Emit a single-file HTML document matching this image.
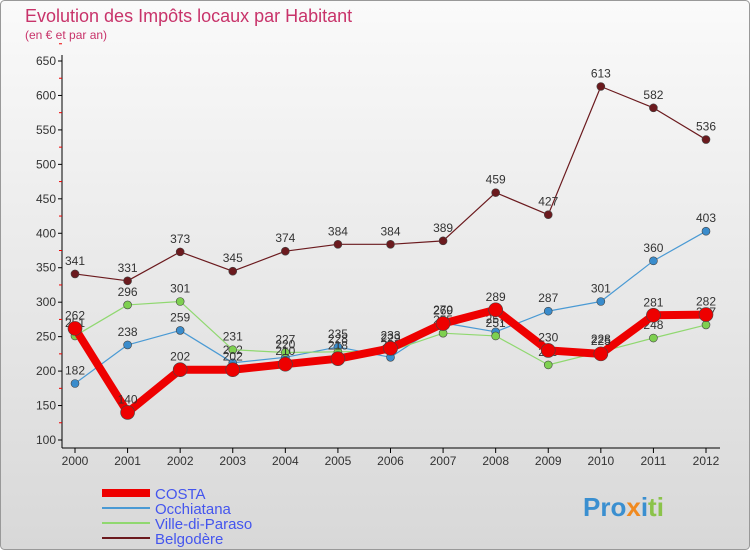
<!DOCTYPE html>
<html><head><meta charset="utf-8"><style>
body{margin:0;width:750px;height:550px;overflow:hidden;font-family:"Liberation Sans",sans-serif}
</style></head><body>
<svg width="750" height="550" xmlns="http://www.w3.org/2000/svg">
<defs><linearGradient id="bg" x1="0" y1="0" x2="0" y2="1"><stop offset="0" stop-color="#fafafa"/><stop offset="1" stop-color="#d8d8d8"/></linearGradient></defs>
<rect x="0.5" y="0.5" width="749" height="549" rx="4" fill="url(#bg)" stroke="#999"/>
<text x="25" y="22" font-size="18" fill="#c8336a">Evolution des Impôts locaux par Habitant</text>
<text x="25" y="39" font-size="12" fill="#c8336a">(en € et par an)</text>
<g id="axes"></g><g id="series"></g><g id="legend"></g>
<text x="583" y="516" font-size="26" font-weight="bold" fill="#3a8fd0">Pro<tspan fill="#f08a20">x</tspan><tspan fill="#3a8fd0">i</tspan><tspan fill="#8bc34a">ti</tspan></text>
</svg>
<script>
const years=[2000,2001,2002,2003,2004,2005,2006,2007,2008,2009,2010,2011,2012];
const yTicks=[100,150,200,250,300,350,400,450,500,550,600,650];
const costa=[262,140,202,202,210,218,233,269,289,230,225,281,282];
const occhiatana=[182,238,259,212,220,235,220,270,257,287,301,360,403];
const ville=[251,296,301,231,227,228,229,255,251,209,228,248,267];
const belgodere=[341,331,373,345,374,384,384,389,459,427,613,582,536];
const NS="http://www.w3.org/2000/svg";
const x=i=>75+i*(706-75)/12;
const y=v=>440-(v-100)*(440-61)/550;
function mk(t,a,p){const e=document.createElementNS(NS,t);for(const k in a)e.setAttribute(k,a[k]);p.appendChild(e);return e;}
const ax=document.getElementById('axes');
const yl=mk('line',{x1:62,y1:55,x2:62,y2:448,stroke:'#000'},ax);


const xl=mk('line',{x1:62,y1:448,x2:720,y2:448,stroke:'#000'},ax);


yTicks.forEach(v=>{
 mk('line',{x1:58,y1:y(v),x2:62,y2:y(v),stroke:'#000'},ax);
 mk('line',{x1:59,y1:y(v+25),x2:62,y2:y(v+25),stroke:'#e00'},ax);
 const t=mk('text',{x:56,y:y(v)+4,'text-anchor':'end','font-size':12,fill:'#333'},ax);t.textContent=v;
 
 
});
years.forEach((yr,i)=>{
 mk('line',{x1:x(i),y1:448,x2:x(i),y2:453,stroke:'#000'},ax);
 const t=mk('text',{x:x(i),y:465,'text-anchor':'middle','font-size':12,fill:'#333'},ax);t.textContent=yr;
 
 
});
const sg=document.getElementById('series');
function series(data,color,w,r,name,dot){
 const g=mk('g',{},sg);
 
 
 const p=mk('polyline',{points:data.map((v,i)=>x(i)+','+y(v)).join(' '),fill:'none',stroke:color,'stroke-width':w,'stroke-linejoin':'round'},g);
 
 
 data.forEach((v,i)=>{
  const c=mk('circle',{cx:x(i),cy:y(v),r:r,fill:dot,stroke:'#444','stroke-width':0.6},g);
  
  
  const t=mk('text',{x:x(i),y:y(v)-9,'text-anchor':'middle','font-size':12,fill:'#333'},g);t.textContent=v;
  
  
 });
}
series(belgodere,'#6b1a1e',1.2,4,'belgodere','#6b1a1e');
series(occhiatana,'#4a9ad4',1.2,4,'occhiatana','#3a8ccc');
series(ville,'#90d870',1.2,4,'ville-di-paraso','#7ed050');
series(costa,'#ee0000',8,7,'costa','#ee0000');
const lg=document.getElementById('legend');
[['COSTA','#ee0000',8],['Occhiatana','#4a9ad4',2],['Ville-di-Paraso','#90d870',2],['Belgodère','#6b1a1e',2]].forEach((d,i)=>{
 const yy=493+i*15;
 const g=mk('g',{},lg);
 
 
 mk('line',{x1:102,y1:yy,x2:150,y2:yy,stroke:d[1],'stroke-width':d[2]},g);
 const t=mk('text',{x:155,y:yy+6,'font-size':15,fill:'#4455ee'},g);t.textContent=d[0];
});
</script>
</body></html>
